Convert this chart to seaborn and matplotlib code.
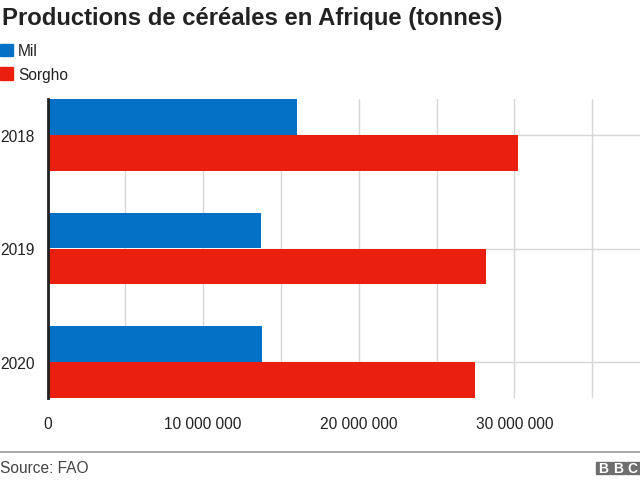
import numpy as np
import pandas as pd
import matplotlib
matplotlib.use("Agg")
import matplotlib.pyplot as plt
from matplotlib.patches import Rectangle
from matplotlib.lines import Line2D
import seaborn as sns

# data (tonnes)
years = ["2018", "2019", "2020"]
mil = [16_000_000, 13_700_000, 13_800_000]
sorgho = [30_200_000, 28_200_000, 27_500_000]
series_names = ["Mil", "Sorgho"]
series_colors = ["#0571c6", "#ea1f10"]
xtick_values = [0, 10_000_000, 20_000_000, 30_000_000]
xtick_labels = ["0", "10 000 000", "20 000 000", "30 000 000"]

df = pd.DataFrame({
    "year": years * 2,
    "series": [series_names[0]] * len(years) + [series_names[1]] * len(years),
    "value": mil + sorgho,
})

sns.set_theme(style="white")
plt.rcParams["font.family"] = ["Liberation Sans", "DejaVu Sans"]

W, H = 640, 481
fig = plt.figure(figsize=(W / 100, H / 100), dpi=100)
ax = fig.add_axes([47.5 / W, 1 - 399 / H, 1 - 47.5 / W, (399 - 100) / H])

sns.barplot(data=df, y="year", x="value", hue="series", orient="h",
            palette=series_colors, width=0.632, gap=0, linewidth=0,
            saturation=1, ax=ax, legend=False, zorder=3)

ax.set_xlim(0, 38_070_000)
ax.set_ylim(2.316, -0.316)
ax.set_xticks(xtick_values)
ax.set_xticklabels(xtick_labels)
ax.set_xticks([5_000_000, 15_000_000, 25_000_000, 35_000_000], minor=True)
ax.grid(True, axis="x", which="both", color="#d6d6d6", linewidth=1, zorder=0)
ax.grid(True, axis="y", which="major", color="#d6d6d6", linewidth=1, zorder=0)
ax.set_xlabel("")
ax.set_ylabel("")
for s in ["top", "right", "bottom"]:
    ax.spines[s].set_visible(False)
ax.spines["left"].set_color("#222222")
ax.spines["left"].set_linewidth(2)
ax.spines["left"].set_zorder(5)
ax.tick_params(axis="both", which="both", length=0, labelsize=11.2,
               labelcolor="#222222")
ax.tick_params(axis="x", pad=13)
ax.tick_params(axis="y", pad=9)

# title
fig.text(2 / W, 1 - 25 / H, "Productions de céréales en Afrique (tonnes)",
         fontsize=17.2, fontweight="bold", color="#222222",
         ha="left", va="baseline")

# legend with square keys
handles = [Rectangle((0, 0), 1, 1, color=c) for c in series_colors]
fig.legend(handles, series_names, loc="upper left",
           bbox_to_anchor=(0, 1 - 44.5 / H), frameon=False, fontsize=11.2,
           handlelength=0.85, handleheight=0.85, handletextpad=0.3,
           labelspacing=0.55, borderpad=0, borderaxespad=0,
           labelcolor="#222222")

# footer
fig.add_artist(Line2D([0, 1], [1 - 452.7 / H] * 2, color="#9a9a9a",
                      linewidth=1.2, transform=fig.transFigure))
fig.text(0, 1 - 473 / H, "Source: FAO", fontsize=11.2, color="#444444",
         ha="left", va="baseline")
for i, letter in enumerate("BBC"):
    x0 = 596 + i * 15
    fig.add_artist(Rectangle((x0 / W, 1 - 475 / H), 13.5 / W, 12.5 / H,
                             color="#6e6e6e", transform=fig.transFigure))
    fig.text((x0 + 6.75) / W, 1 - 473 / H, letter, fontsize=10,
             fontweight="bold", color="white", ha="center", va="baseline")

fig.savefig("out.png", dpi=100)
